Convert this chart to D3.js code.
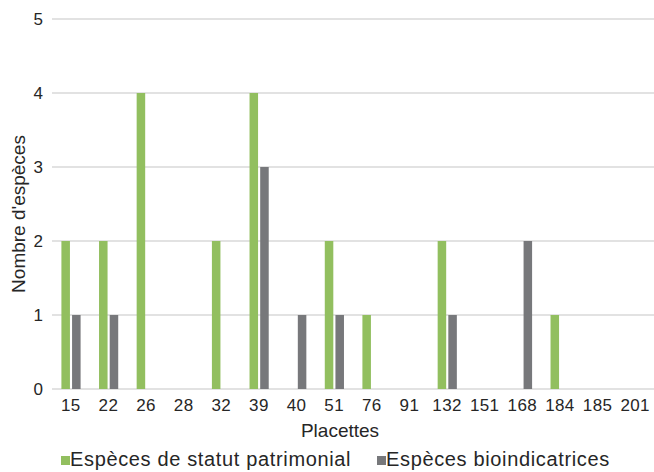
<!DOCTYPE html>
<html>
<head>
<meta charset="utf-8">
<script src="https://cdn.jsdelivr.net/npm/d3@7"></script>
<style>
  body { margin: 0; background: #fff; }
  text { font-family: "Liberation Sans", Arial, sans-serif; fill: #262626; }
</style>
</head>
<body>
<div id="chart"></div>
<script>
// placettes on the x axis
const placettes = ['15', '22', '26', '28', '32', '39', '40', '51', '76', '91', '132', '151', '168', '184', '185', '201'];
const patrimonial = [2, 2, 4, 0, 2, 4, 0, 2, 1, 0, 2, 0, 0, 1, 0, 0];
const bioindic = [1, 1, 0, 0, 0, 3, 1, 1, 0, 0, 1, 0, 2, 0, 0, 0];
const seriesNames = ['Espèces de statut patrimonial', 'Espèces bioindicatrices'];
const seriesColors = ['#92bf5f', '#77787b'];
const yTicks = [0, 1, 2, 3, 4, 5];

const width = 654, height = 472;
const plotLeft = 52, plotRight = 654, plotTop = 19, plotBottom = 389;

const svg = d3.select('#chart').append('svg')
  .attr('width', width)
  .attr('height', height);

const x = d3.scaleBand().domain(placettes).range([plotLeft, plotRight]);
const x1 = d3.scaleBand().domain([0, 1])
  .range([x.bandwidth() * 0.25, x.bandwidth() * 0.76])
  .paddingInner(0.2);
const y = d3.scaleLinear().domain([0, 5]).range([plotBottom, plotTop]);

// grid lines
svg.append('g').selectAll('line')
  .data(yTicks)
  .enter().append('line')
    .attr('x1', plotLeft)
    .attr('x2', plotRight)
    .attr('y1', d => y(d))
    .attr('y2', d => y(d))
    .attr('stroke', '#d9d9d9')
    .attr('stroke-width', 1.5);

// y axis labels
const yAxis = svg.append('g')
  .attr('transform', `translate(${plotLeft},0)`)
  .call(d3.axisLeft(y).tickValues(yTicks).tickFormat(d3.format('d')).tickSize(0).tickPadding(9));
yAxis.select('.domain').remove();
yAxis.selectAll('text').style('font-size', '17px').attr('fill', '#262626');

// x axis labels
const xAxis = svg.append('g')
  .attr('transform', `translate(0,${plotBottom})`)
  .call(d3.axisBottom(x).tickSize(0).tickPadding(10));
xAxis.select('.domain').remove();
xAxis.selectAll('text').style('font-size', '17px').style('letter-spacing', '0.4px').attr('fill', '#262626');

// bars
const rows = placettes.map((p, i) => ({p: p, vals: [patrimonial[i], bioindic[i]]}));
const groups = svg.append('g').selectAll('g')
  .data(rows)
  .enter().append('g')
    .attr('transform', d => `translate(${x(d.p)},0)`);

groups.selectAll('rect')
  .data(d => d.vals.map((v, k) => ({k: k, v: v})))
  .enter().append('rect')
    .attr('x', d => x1(d.k))
    .attr('width', x1.bandwidth())
    .attr('y', d => y(d.v))
    .attr('height', d => plotBottom - y(d.v))
    .attr('fill', d => seriesColors[d.k]);

// axis titles
svg.append('text')
  .attr('x', 340)
  .attr('y', 437)
  .attr('text-anchor', 'middle')
  .style('font-size', '19px')
  .text('Placettes');

svg.append('text')
  .attr('transform', 'translate(25,214) rotate(-90)')
  .attr('text-anchor', 'middle')
  .style('font-size', '19px')
  .text("Nombre d'espèces");

// legend
const legendX = [61, 377];
const legend = svg.append('g').selectAll('g')
  .data(seriesNames)
  .enter().append('g')
    .attr('transform', (d, i) => `translate(${legendX[i]},0)`);
legend.append('rect')
  .attr('x', 0).attr('y', 456)
  .attr('width', 9).attr('height', 9)
  .attr('fill', (d, i) => seriesColors[i]);
legend.append('text')
  .attr('x', 9).attr('y', 466)
  .style('font-size', '20px')
  .style('letter-spacing', '0.65px')
  .text(d => d);
</script>
</body>
</html>
